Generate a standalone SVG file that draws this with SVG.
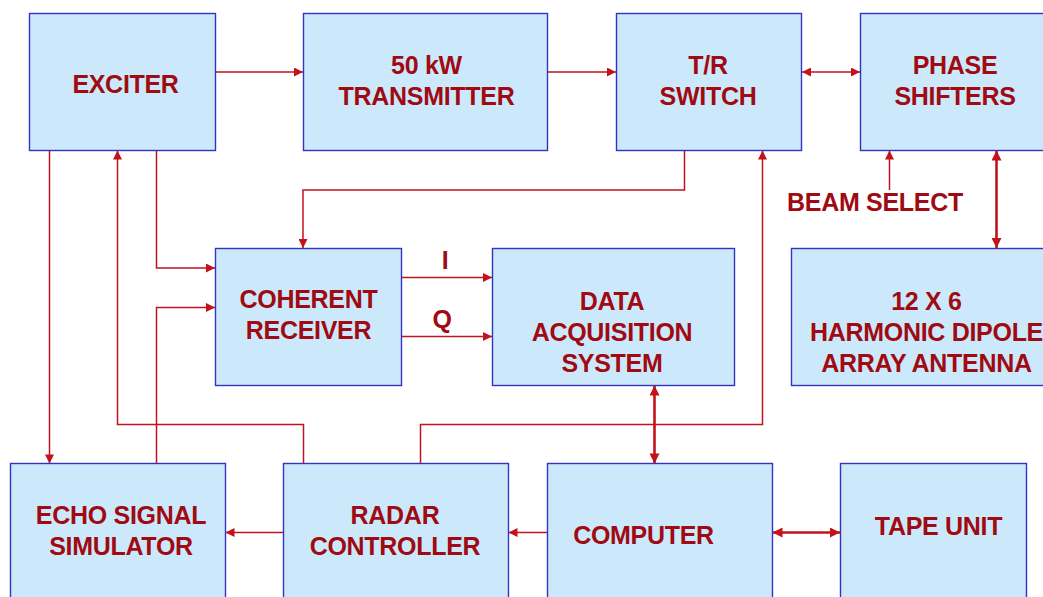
<svg xmlns="http://www.w3.org/2000/svg" width="1043" height="597" viewBox="0 0 1043 597">
<defs>
<marker id="ah" viewBox="0 0 10 10" refX="10" refY="5" markerWidth="10" markerHeight="9" markerUnits="userSpaceOnUse" orient="auto-start-reverse">
<path d="M0,0 L10,5 L0,10 z" fill="#c4121c"/>
</marker>
<marker id="ahb" viewBox="0 0 10 10" refX="10" refY="5" markerWidth="11" markerHeight="10" markerUnits="userSpaceOnUse" orient="auto-start-reverse">
<path d="M0,0 L10,5 L0,10 z" fill="#c4121c"/>
</marker>
</defs>
<style>
.box{fill:#cce9fb;stroke:#3333c4;stroke-width:1.4}
.t{font-family:"Liberation Sans",Arial,sans-serif;font-weight:bold;font-size:25px;fill:#a00a12;text-anchor:middle;letter-spacing:-0.3px}
.c{fill:none;stroke:#c4121c;stroke-width:1.5}
.cb{fill:none;stroke:#c4121c;stroke-width:2.6}
</style>
<rect width="1043" height="597" fill="#ffffff"/>
<g id="connectors">
<path class="c" d="M215,72 H303" marker-end="url(#ah)"/>
<path class="c" d="M547,72 H616" marker-end="url(#ah)"/>
<path class="c" d="M802,72 H860" stroke-width="2" marker-start="url(#ah)" marker-end="url(#ah)"/>
<path class="c" d="M684.5,150.5 V190 H303 V248" marker-end="url(#ah)"/>
<path class="c" d="M156.5,150.5 V268 H215" marker-end="url(#ah)"/>
<path class="c" d="M49.5,150.5 V463.5" marker-end="url(#ah)"/>
<path class="c" d="M303.5,463.5 V424.5 H117.5 V150.5" marker-end="url(#ah)"/>
<path class="c" d="M156.5,463.5 V307.5 H215" marker-end="url(#ah)"/>
<path class="c" d="M401,277.5 H492" marker-end="url(#ah)"/>
<path class="c" d="M401,336.5 H492" marker-end="url(#ah)"/>
<path class="c" d="M420.5,463.5 V424.5 H762.5 V150.5" marker-end="url(#ah)"/>
<path class="cb" d="M654.5,385.5 V463.5" marker-start="url(#ahb)" marker-end="url(#ahb)"/>
<path class="c" d="M547,532.5 H508.5" marker-end="url(#ah)"/>
<path class="c" d="M283.5,532.5 H225.5" marker-end="url(#ah)"/>
<path class="cb" d="M772.5,532.5 H840" marker-start="url(#ahb)" marker-end="url(#ahb)"/>
<path class="c" d="M889.5,190 V150.5" marker-end="url(#ah)"/>
<path class="cb" d="M996.5,150.5 V248" marker-start="url(#ahb)" marker-end="url(#ahb)"/>
</g>
<g id="exciter">
<rect class="box" x="29.5" y="13.5" width="186" height="137"/>
<text class="t" x="125.5" y="93">EXCITER</text>
</g>
<g id="transmitter">
<rect class="box" x="303.5" y="13.5" width="244" height="137"/>
<text class="t" x="426.5" y="74">50 kW</text>
<text class="t" x="426.5" y="105">TRANSMITTER</text>
</g>
<g id="tr-switch">
<rect class="box" x="616.5" y="13.5" width="185" height="137"/>
<text class="t" x="708" y="74">T/R</text>
<text class="t" x="708" y="105">SWITCH</text>
</g>
<g id="phase-shifters">
<rect class="box" x="860.5" y="13.5" width="190" height="137"/>
<text class="t" x="955" y="74">PHASE</text>
<text class="t" x="955" y="105">SHIFTERS</text>
</g>
<g id="beam-select">
<text class="t" x="875" y="210.5">BEAM SELECT</text>
</g>
<g id="coherent-receiver">
<rect class="box" x="215.5" y="248.5" width="186" height="137"/>
<text class="t" x="308.5" y="308">COHERENT</text>
<text class="t" x="308.5" y="339">RECEIVER</text>
</g>
<g id="labels-iq">
<text class="t" x="445" y="269">I</text>
<text class="t" x="442" y="328">Q</text>
</g>
<g id="data-acquisition">
<rect class="box" x="492.5" y="248.5" width="242" height="137"/>
<text class="t" x="612" y="310">DATA</text>
<text class="t" x="612" y="340.5">ACQUISITION</text>
<text class="t" x="612" y="371.5">SYSTEM</text>
</g>
<g id="antenna">
<rect class="box" x="791.5" y="248.5" width="270" height="137"/>
<text class="t" x="926.5" y="310">12 X 6</text>
<text class="t" x="926.5" y="340.5">HARMONIC DIPOLE</text>
<text class="t" x="926.5" y="371.5">ARRAY ANTENNA</text>
</g>
<g id="echo-simulator">
<rect class="box" x="10.5" y="463.5" width="215" height="150"/>
<text class="t" x="121" y="524">ECHO SIGNAL</text>
<text class="t" x="121" y="555">SIMULATOR</text>
</g>
<g id="radar-controller">
<rect class="box" x="283.5" y="463.5" width="225" height="150"/>
<text class="t" x="395" y="524">RADAR</text>
<text class="t" x="395" y="555">CONTROLLER</text>
</g>
<g id="computer">
<rect class="box" x="547.5" y="463.5" width="225" height="150"/>
<text class="t" x="643.5" y="544">COMPUTER</text>
</g>
<g id="tape-unit">
<rect class="box" x="840.5" y="463.5" width="186" height="150"/>
<text class="t" x="938.5" y="535">TAPE UNIT</text>
</g>
</svg>
